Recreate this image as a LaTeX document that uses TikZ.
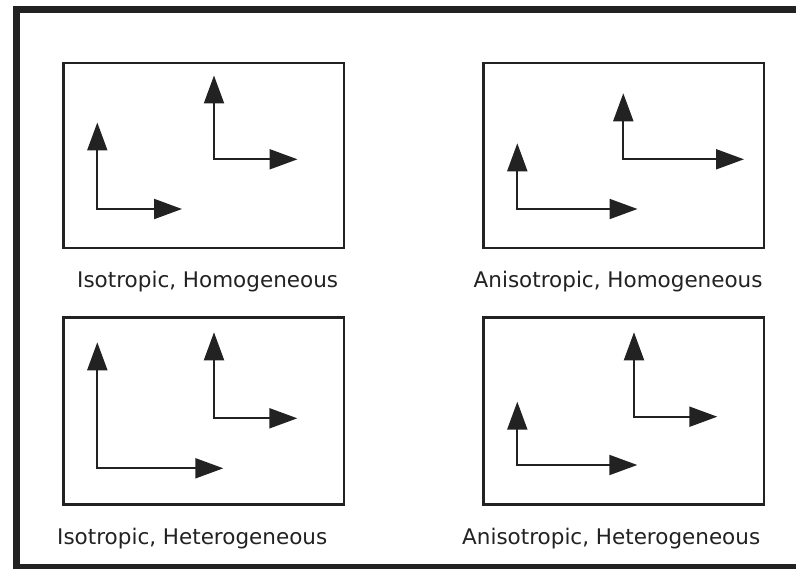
\documentclass[tikz,border=0pt]{standalone}
\usepackage{fontspec}
\setmainfont{DejaVu Sans}
\usetikzlibrary{arrows.meta}
\definecolor{ink}{HTML}{222222}
\tikzset{
  panel/.style={draw=ink, line width=2.4pt},
  axes/.style={draw=ink, line width=2pt, {Triangle[length=28pt,width=20pt]}-{Triangle[length=28pt,width=20pt]}},
  caption/.style={anchor=base west, inner sep=0pt, font=\fontsize{21.5pt}{24pt}\selectfont, text=ink},
  frameline/.style={draw=ink, line width=7pt}
}
\begin{document}
\begin{tikzpicture}[x=1pt,y=-1pt]
\useasboundingbox (0,0) rectangle (796,569);
\clip (0,0) rectangle (796,569);
\fill[white] (0,0) rectangle (796,569);
% outer frame
\coordinate (ftr) at (810,9.5);
\coordinate (ftl) at (16.5,9.5);
\coordinate (fbl) at (16.5,567.5);
\coordinate (fbr) at (810,567.5);
\draw[frameline] (ftr) -- (ftl) -- (fbl) -- (fbr);
% panels
\draw[panel] (63.5,63) rectangle (344,248);
\draw[panel] (483.5,63) rectangle (764,248);
\draw[panel] (63.5,317.5) rectangle (344,504.5);
\draw[panel] (483.5,317.5) rectangle (764,504.5);
% panel 1
\coordinate (a1o) at (97.3,209); \coordinate (a1u) at (97.3,122.5); \coordinate (a1r) at (182,209);
\coordinate (b1o) at (214,159.3); \coordinate (b1u) at (214,75.5); \coordinate (b1r) at (297.5,159.3);
\draw[axes] (a1u) -- (a1o) -- (a1r);
\draw[axes] (b1u) -- (b1o) -- (b1r);
% panel 2
\coordinate (a2o) at (517.3,209); \coordinate (a2u) at (517.3,143.3); \coordinate (a2r) at (637.5,209);
\coordinate (b2o) at (623.3,159.3); \coordinate (b2u) at (623.3,93.3); \coordinate (b2r) at (744,159.3);
\draw[axes] (a2u) -- (a2o) -- (a2r);
\draw[axes] (b2u) -- (b2o) -- (b2r);
% panel 3
\coordinate (a3o) at (97.3,468.3); \coordinate (a3u) at (97.3,342.3); \coordinate (a3r) at (223.3,468.3);
\coordinate (b3o) at (214,418.3); \coordinate (b3u) at (214,332.3); \coordinate (b3r) at (297.3,418.3);
\draw[axes] (a3u) -- (a3o) -- (a3r);
\draw[axes] (b3u) -- (b3o) -- (b3r);
% panel 4
\coordinate (a4o) at (517.3,465); \coordinate (a4u) at (517.3,401.7); \coordinate (a4r) at (637.3,465);
\coordinate (b4o) at (634,416.7); \coordinate (b4u) at (634,332.3); \coordinate (b4r) at (717.3,416.7);
\draw[axes] (a4u) -- (a4o) -- (a4r);
\draw[axes] (b4u) -- (b4o) -- (b4r);
% captions
\node[caption] (c1) at (77,287.3) {Isotropic, Homogeneous};
\node[caption] (c2) at (473.5,287.3) {Anisotropic, Homogeneous};
\node[caption] (c3) at (57,544.3) {Isotropic, Heterogeneous};
\node[caption] (c4) at (462,544.3) {Anisotropic, Heterogeneous};
\end{tikzpicture}
\end{document}
